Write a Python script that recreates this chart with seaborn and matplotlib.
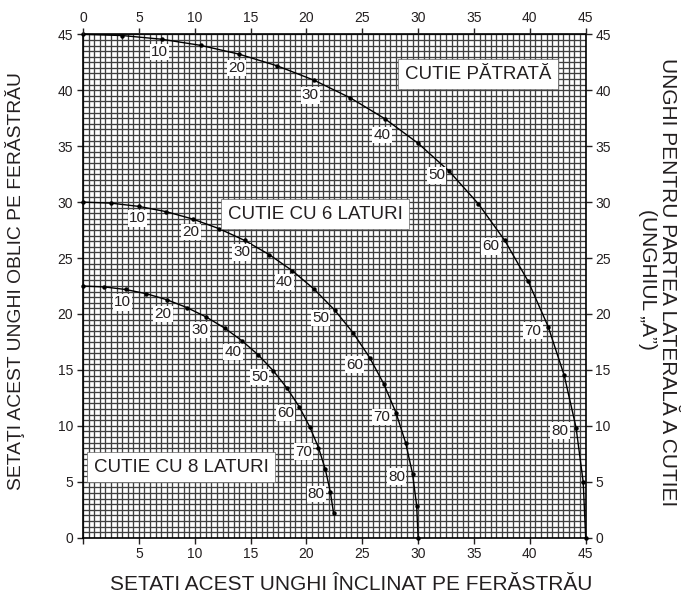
import matplotlib
matplotlib.use("Agg")
import matplotlib.pyplot as plt
from matplotlib.ticker import MultipleLocator, FuncFormatter
import seaborn as sns
import pandas as pd

# Side angle "A" of each point on the curves (degrees)
side_angle = [0, 5, 10, 15, 20, 25, 30, 35, 40, 45, 50, 55, 60, 65, 70, 75, 80, 85, 90]

# Square box: saw bevel (x) and saw miter (y)
square_bevel = [0.00, 3.53, 7.05, 10.55, 14.00, 17.39, 20.70, 23.93, 27.03, 30.00,
                32.80, 35.40, 37.76, 39.86, 41.64, 43.08, 44.14, 44.78, 45.00]
square_miter = [45.00, 44.89, 44.56, 44.01, 43.22, 42.18, 40.89, 39.32, 37.45, 35.26,
                32.74, 29.84, 26.57, 22.91, 18.88, 14.51, 9.85, 4.98, 0.00]

# Six-sided box
hex_bevel = [0.00, 2.50, 4.98, 7.44, 9.85, 12.20, 14.48, 16.67, 18.75, 20.70,
             22.52, 24.18, 25.66, 26.95, 28.02, 28.88, 29.50, 29.87, 30.00]
hex_miter = [30.00, 29.91, 29.62, 29.15, 28.48, 27.62, 26.57, 25.31, 23.86, 22.21,
             20.36, 18.32, 16.10, 13.71, 11.17, 8.50, 5.73, 2.88, 0.00]

# Eight-sided box (curve drawn up to A = 85)
oct_bevel = [0.00, 1.91, 3.81, 5.68, 7.52, 9.31, 11.03, 12.68, 14.24, 15.70,
             17.05, 18.27, 19.36, 20.29, 21.08, 21.69, 22.14, 22.43]
oct_miter = [22.50, 22.42, 22.19, 21.81, 21.27, 20.57, 19.73, 18.74, 17.60, 16.33,
             14.91, 13.36, 11.70, 9.93, 8.06, 6.12, 4.11, 2.20]

curve_labels = [10, 20, 30, 40, 50, 60, 70, 80]
box_titles = ["CUTIE PĂTRATĂ", "CUTIE CU 6 LATURI", "CUTIE CU 8 LATURI"]

x_label = "SETATI ACEST UNGHI ÎNCLINAT PE FERĂSTRĂU"
y_label = "SETAŢI ACEST UNGHI OBLIC PE FERĂSTRĂU"
right_label = ["UNGHI PENTRU PARTEA LATERALĂ A CUTIEI", "(UNGHIUL „A”)"]

sns.set_theme(style="white")
plt.rcParams["font.family"] = ["Liberation Sans", "DejaVu Sans"]
ink = "#231f20"
plt.rcParams["text.color"] = ink
plt.rcParams["axes.labelcolor"] = ink
plt.rcParams["xtick.color"] = ink
plt.rcParams["ytick.color"] = ink

W, H = 681, 598
fig = plt.figure(figsize=(W / 100, H / 100), dpi=100)
ax = fig.add_axes([0.1219, 0.1008, 0.7381, 0.8418])

ax.set_xlim(0, 45)
ax.set_ylim(0, 45)

# fine graph-paper grid every half degree
ax.xaxis.set_major_locator(MultipleLocator(5))
ax.yaxis.set_major_locator(MultipleLocator(5))
ax.xaxis.set_minor_locator(MultipleLocator(0.5))
ax.yaxis.set_minor_locator(MultipleLocator(0.5))
ax.grid(which="both", color="#404040", linewidth=0.95)
ax.set_axisbelow(True)

frames = [
    pd.DataFrame({"bevel": square_bevel, "miter": square_miter, "A": side_angle}),
    pd.DataFrame({"bevel": hex_bevel, "miter": hex_miter, "A": side_angle}),
    pd.DataFrame({"bevel": oct_bevel, "miter": oct_miter, "A": side_angle[:len(oct_bevel)]}),
]

for df in frames:
    sns.lineplot(data=df, x="bevel", y="miter", sort=False, ax=ax, color="black",
                 linewidth=1.0, marker="o", markersize=3.2, markeredgewidth=0,
                 zorder=4, clip_on=False)
ax.set_xlabel("")
ax.set_ylabel("")

# label offsets (pixels) for the side-angle numbers along each curve
offsets = [
    {10: (-2, -13), 20: (-3, -14), 30: (-4, -15), 40: (-3, -16),
     50: (-13, -4), 60: (-14, -6), 70: (-15, -4), 80: (-16, -3)},
    {10: (-1, -12), 20: (-2, -13), 30: (-3, -12), 40: (-8, -11),
     50: (-14, -8), 60: (-15, -7), 70: (-14, -4), 80: (-16, -3)},
    {10: (-3, -13), 20: (-4, -14), 30: (-6, -13), 40: (-9, -11),
     50: (-14, -6), 60: (-14, -6), 70: (-15, -4), 80: (-14, -2)},
]

for df, offs in zip(frames, offsets):
    for a in curve_labels:
        row = df[df["A"] == a].iloc[0]
        ax.annotate(str(a), (row["bevel"], row["miter"]), xytext=offs[a],
                    textcoords="offset pixels", ha="center", va="center",
                    fontsize=11, color=ink, zorder=5,
                    bbox=dict(boxstyle="square,pad=0.08", fc="white", ec="none"))

# titles of the three families of curves
box_pos = [(35.35, 41.45), (20.8, 28.9), (8.8, 6.3)]
for title, (bx, by) in zip(box_titles, box_pos):
    ax.text(bx, by, title, ha="center", va="center", fontsize=13.5, color=ink,
            zorder=6, bbox=dict(boxstyle="square,pad=0.35", fc="white",
                                ec="#666666", lw=0.5))

for s in ax.spines.values():
    s.set_color("black")
    s.set_linewidth(1.2)

# degree scale on all four sides; the bottom scale starts at 5
ax.xaxis.set_major_formatter(FuncFormatter(lambda v, p: "" if v == 0 else f"{v:g}"))
ax.tick_params(which="major", direction="out", length=4, width=1, labelsize=10,
               pad=3, bottom=True, left=True, top=False, right=True,
               labeltop=False, labelright=True)
ax.tick_params(which="minor", length=0)

top = ax.twiny()
top.set_xlim(ax.get_xlim())
top.xaxis.set_major_locator(MultipleLocator(5))
top.xaxis.set_minor_locator(MultipleLocator(0.5))
top.tick_params(which="major", direction="out", length=4, width=1, labelsize=10,
                pad=3, colors=ink)
top.tick_params(which="minor", length=0)
top.grid(False)
for s in top.spines.values():
    s.set_visible(False)

# axis titles placed in figure pixels
def put(px, py, text, size, rot):
    fig.text(px / W, 1 - py / H, text, fontsize=size, rotation=rot,
             ha="center", va="center", color=ink)

put(351, 585, x_label, 15.0, 0)
put(15, 281, y_label, 13.9, 90)
put(667, 282, right_label[0], 15.0, -90)
put(647, 279, right_label[1], 15.0, -90)

fig.savefig("out.png", dpi=100, facecolor="white")
